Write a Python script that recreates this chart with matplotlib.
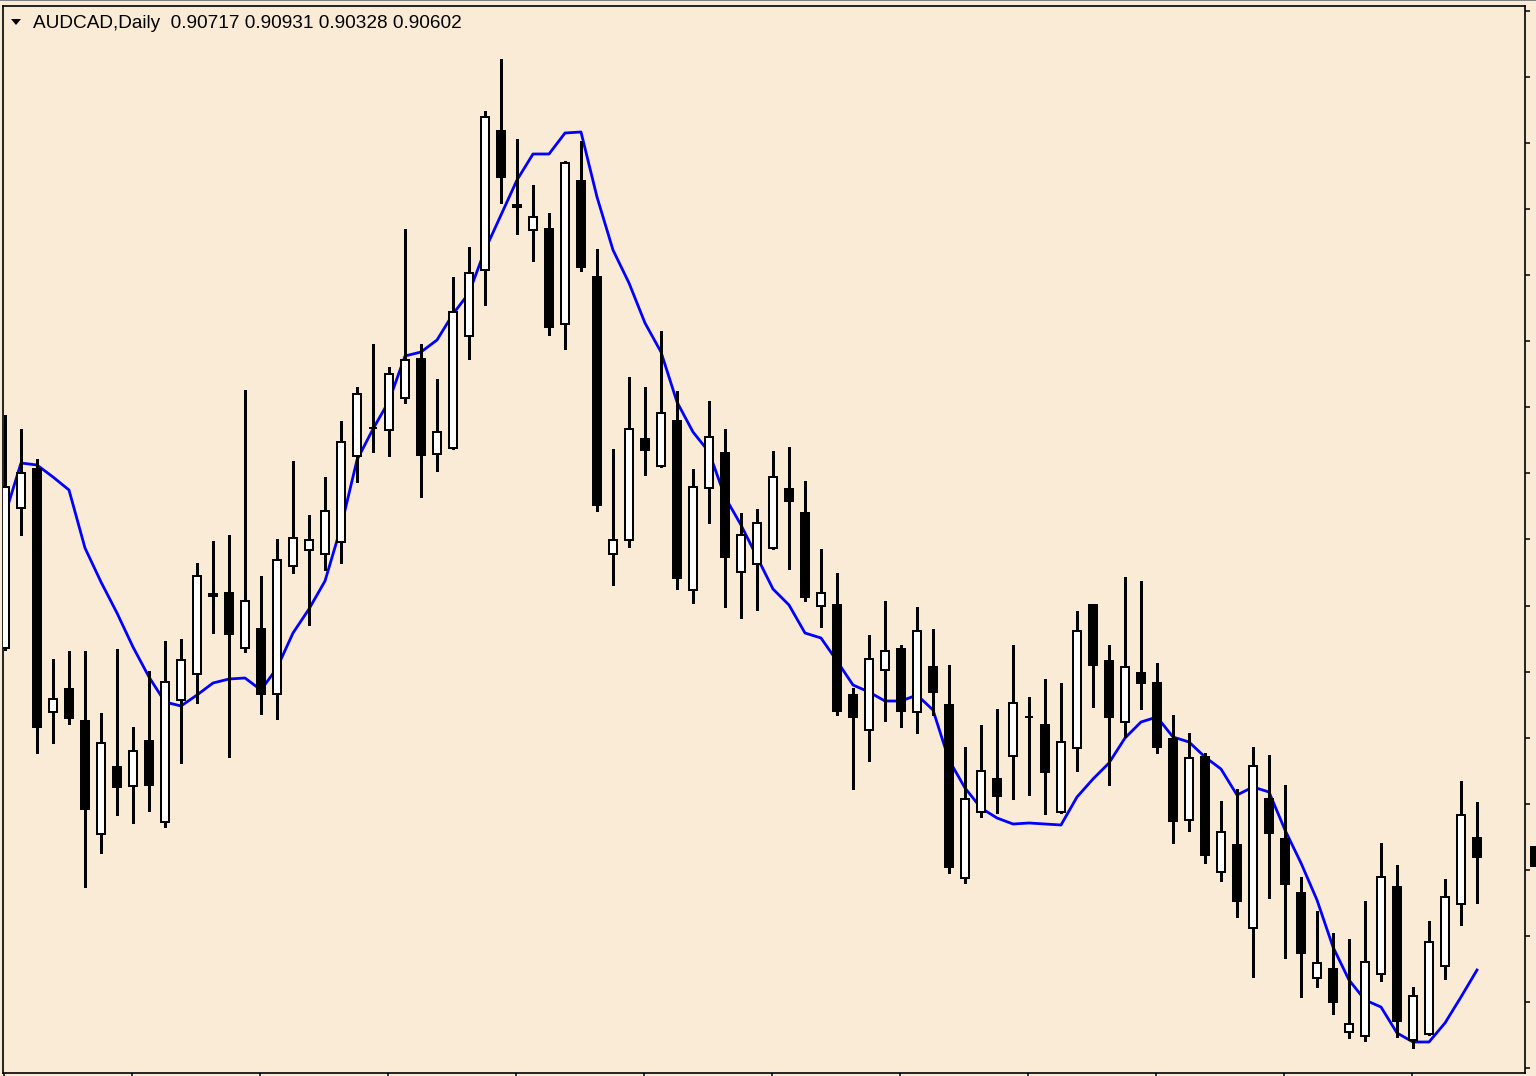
import matplotlib
matplotlib.use("Agg")
import matplotlib.pyplot as plt
from matplotlib.patches import Polygon, Rectangle
import numpy as np

symbol_title = "AUDCAD,Daily  0.90717 0.90931 0.90328 0.90602"

opens = [0.91856, 0.92696, 0.92930, 0.91472, 0.91610, 0.91418, 0.90740, 0.91142, 0.91028, 0.91298,
         0.90812, 0.91544, 0.91700, 0.92180, 0.92186, 0.91856, 0.91970, 0.91580, 0.92348, 0.92444,
         0.92420, 0.92492, 0.93008, 0.93176, 0.93164, 0.93356, 0.93590, 0.93020, 0.93056, 0.93728,
         0.94124, 0.94958, 0.94514, 0.94364, 0.94370, 0.93800, 0.94658, 0.94082, 0.92420, 0.92504,
         0.93110, 0.92948, 0.93218, 0.92204, 0.92816, 0.93026, 0.92312, 0.92360, 0.92456, 0.92810,
         0.92666, 0.92108, 0.92114, 0.91574, 0.91364, 0.91724, 0.91850, 0.91472, 0.91742, 0.91514,
         0.90476, 0.90872, 0.91070, 0.91208, 0.91442, 0.91394, 0.90872, 0.91256, 0.92114, 0.91778,
         0.91412, 0.91706, 0.91646, 0.91310, 0.90824, 0.91202, 0.90512, 0.90674, 0.90176, 0.90950,
         0.90710, 0.90386, 0.89876, 0.89930, 0.89552, 0.89528, 0.89900, 0.90422, 0.89504, 0.89540,
         0.89948, 0.90320, 0.90717]
highs = [0.93254, 0.93170, 0.92990, 0.91790, 0.91838, 0.91838, 0.91466, 0.91850, 0.91382, 0.91718,
         0.91898, 0.91910, 0.92366, 0.92498, 0.92534, 0.93404, 0.92288, 0.92510, 0.92978, 0.92654,
         0.92882, 0.93218, 0.93422, 0.93680, 0.93542, 0.94370, 0.93680, 0.93470, 0.94082, 0.94262,
         0.95078, 0.95390, 0.94910, 0.94634, 0.94466, 0.94778, 0.94898, 0.94250, 0.93050, 0.93482,
         0.93422, 0.93758, 0.93398, 0.92930, 0.93338, 0.93170, 0.92666, 0.92690, 0.93038, 0.93062,
         0.92858, 0.92450, 0.92306, 0.91616, 0.91934, 0.92138, 0.91874, 0.92102, 0.91970, 0.91754,
         0.91262, 0.91394, 0.91490, 0.91874, 0.91562, 0.91670, 0.91646, 0.92078, 0.92120, 0.91874,
         0.92282, 0.92258, 0.91766, 0.91454, 0.91346, 0.91226, 0.90938, 0.91010, 0.91262, 0.91214,
         0.91034, 0.90482, 0.90278, 0.90146, 0.90110, 0.90338, 0.90686, 0.90554, 0.89822, 0.90218,
         0.90470, 0.91058, 0.90931]
lows = [0.91844, 0.92534, 0.91226, 0.91286, 0.91400, 0.90422, 0.90626, 0.90854, 0.90806, 0.90878,
        0.90782, 0.91166, 0.91526, 0.91946, 0.91202, 0.91832, 0.91460, 0.91430, 0.92306, 0.91994,
        0.92324, 0.92366, 0.92852, 0.93032, 0.93008, 0.93326, 0.92762, 0.92918, 0.93050, 0.93590,
        0.93914, 0.94526, 0.94340, 0.94178, 0.93734, 0.93650, 0.94118, 0.92678, 0.92234, 0.92462,
        0.92894, 0.92942, 0.92210, 0.92126, 0.92606, 0.92102, 0.92036, 0.92084, 0.92450, 0.92330,
        0.92138, 0.91982, 0.91454, 0.91010, 0.91178, 0.91418, 0.91382, 0.91346, 0.91454, 0.90506,
        0.90446, 0.90842, 0.90866, 0.90950, 0.90974, 0.90860, 0.90866, 0.91118, 0.91502, 0.91034,
        0.91322, 0.91490, 0.91226, 0.90686, 0.90758, 0.90566, 0.90458, 0.90242, 0.89882, 0.90356,
        0.89996, 0.89762, 0.89822, 0.89660, 0.89516, 0.89498, 0.89858, 0.89522, 0.89456, 0.89534,
        0.89870, 0.90194, 0.90328]
closes = [0.92822, 0.92906, 0.91382, 0.91550, 0.91436, 0.90890, 0.91286, 0.91022, 0.91238, 0.91034,
          0.91652, 0.91784, 0.92288, 0.92168, 0.91940, 0.92138, 0.91580, 0.92384, 0.92516, 0.92504,
          0.92678, 0.93092, 0.93380, 0.93176, 0.93500, 0.93584, 0.93014, 0.93152, 0.93872, 0.94106,
          0.95042, 0.94682, 0.94502, 0.94442, 0.93782, 0.94766, 0.94142, 0.92714, 0.92504, 0.93170,
          0.93044, 0.93266, 0.92276, 0.92822, 0.93122, 0.92402, 0.92534, 0.92606, 0.92882, 0.92738,
          0.92162, 0.92186, 0.91478, 0.91442, 0.91790, 0.91838, 0.91478, 0.91958, 0.91592, 0.90542,
          0.90950, 0.91118, 0.90968, 0.91526, 0.91442, 0.91112, 0.91292, 0.91958, 0.91754, 0.91442,
          0.91742, 0.91646, 0.91262, 0.90818, 0.91196, 0.90614, 0.90752, 0.90338, 0.91148, 0.90746,
          0.90440, 0.90026, 0.89966, 0.89732, 0.89600, 0.89972, 0.90482, 0.89618, 0.89768, 0.90092,
          0.90362, 0.90854, 0.90602]
ma_values = [0.92654, 0.92966, 0.92954, 0.92882, 0.92804, 0.92456, 0.92252, 0.92066, 0.91862, 0.91682,
             0.91532, 0.91508, 0.91574, 0.91646, 0.91670, 0.91676, 0.91604, 0.91736, 0.91946, 0.92090,
             0.92258, 0.92582, 0.92984, 0.93170, 0.93338, 0.93608, 0.93632, 0.93704, 0.93860, 0.93986,
             0.94244, 0.94454, 0.94664, 0.94820, 0.94820, 0.94946, 0.94952, 0.94562, 0.94244, 0.94046,
             0.93806, 0.93632, 0.93332, 0.93152, 0.93032, 0.92762, 0.92594, 0.92402, 0.92210, 0.92114,
             0.91946, 0.91916, 0.91778, 0.91634, 0.91592, 0.91538, 0.91538, 0.91574, 0.91484, 0.91184,
             0.91016, 0.90896, 0.90836, 0.90800, 0.90806, 0.90800, 0.90794, 0.90962, 0.91070, 0.91166,
             0.91316, 0.91412, 0.91442, 0.91322, 0.91292, 0.91202, 0.91130, 0.90974, 0.91022, 0.90992,
             0.90764, 0.90566, 0.90344, 0.90062, 0.89864, 0.89744, 0.89702, 0.89546, 0.89492, 0.89492,
             0.89606, 0.89762, 0.89924]

BG = "#FAEBD7"
W, H = 1536, 1076
fig = plt.figure(figsize=(W / 100, H / 100), dpi=100, facecolor=BG)
ax = fig.add_axes([3 / W, 3 / H, 1522 / W, 1067 / H], facecolor=BG)

n = len(closes)
idx = np.arange(n)
o = np.array(opens); h = np.array(highs); l = np.array(lows); c = np.array(closes)

# moving average line (behind candles)
ax.plot(idx, ma_values, color="#0000FF", lw=2.0, zorder=1, solid_joinstyle="round")

# wicks
ax.vlines(idx, l, h, color="black", lw=1.0, zorder=2, antialiased=False)

# bodies
bull = c >= o
bottoms = np.minimum(o, c)
heights = np.abs(c - o)
ax.bar(idx[bull], heights[bull], bottom=bottoms[bull], width=0.5,
       facecolor="white", edgecolor="black", linewidth=1.2, zorder=3, antialiased=False)
ax.bar(idx[~bull], heights[~bull], bottom=bottoms[~bull], width=0.5,
       facecolor="black", edgecolor="black", linewidth=1.2, zorder=3, antialiased=False)

ax.set_xlim(-0.125, 95)
ax.set_ylim(0.89306, 0.95708)

for s in ax.spines.values():
    s.set_color("black")
    s.set_linewidth(1.2)

ax.yaxis.tick_right()
ax.set_yticks(np.arange(0.893342, 0.9575, 0.003966))
ax.set_xticks(np.arange(-0.0625, 95, 8))
ax.tick_params(axis="y", direction="out", length=3.6, width=1.1, labelright=False, labelleft=False, right=True, left=False)
ax.tick_params(axis="x", direction="out", length=2.2, width=1.1, labelbottom=False)

# current price label on the right axis (clipped by the window edge)
fig.patches.append(Rectangle((1530 / W, 1 - 867 / H), 10 / W, 21 / H, transform=fig.transFigure,
                             facecolor="black", edgecolor="none"))
# window top border
fig.patches.append(Rectangle((0, 1 - 1.3 / H), 1, 1.3 / H, transform=fig.transFigure,
                             facecolor="#808080", edgecolor="none"))
# dropdown triangle
fig.patches.append(Polygon([(11 / W, 1 - 19 / H), (21 / W, 1 - 19 / H), (16 / W, 1 - 25 / H)],
                           closed=True, transform=fig.transFigure, facecolor="black", edgecolor="none"))

fig.text(33 / W, 1 - 28 / H, symbol_title, fontfamily=["Liberation Sans", "DejaVu Sans"],
         fontsize=13.7, va="baseline", ha="left", color="black")

fig.savefig("out.png", dpi=100, facecolor=BG)
